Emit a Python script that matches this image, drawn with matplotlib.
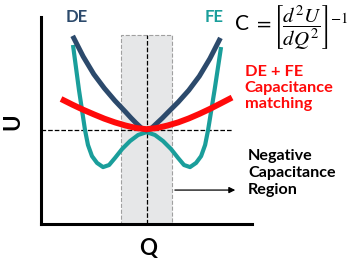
import matplotlib
matplotlib.use('Agg')
import matplotlib.pyplot as plt
from matplotlib.patches import Rectangle

plt.rcParams['font.family'] = ['Lato', 'DejaVu Sans']
plt.rcParams['mathtext.fontset'] = 'stix'

# Energy curves U(Q)
de_q = [-0.70, -0.60, -0.50, -0.40, -0.30, -0.20, -0.15, -0.10, -0.05, 0.0,
        0.05, 0.10, 0.15, 0.20, 0.30, 0.40, 0.50, 0.60, 0.70]
de_u = [4.55, 3.55, 2.70, 2.02, 1.42, 0.88, 0.60, 0.34, 0.10, 0.0,
        0.10, 0.34, 0.58, 0.84, 1.35, 1.92, 2.60, 3.45, 4.45]

fe_q = [-0.697, -0.640, -0.583, -0.555, -0.517, -0.469, -0.412, -0.355, -0.299,
        -0.232, -0.156, -0.080, 0.0,
        0.080, 0.156, 0.232, 0.299, 0.355, 0.412, 0.469, 0.517, 0.555, 0.583,
        0.645, 0.706]
fe_u = [4.11, 1.93, 0.0, -0.72, -1.26, -1.59, -1.79, -1.69, -1.35,
        -0.92, -0.53, -0.24, -0.10,
        -0.24, -0.53, -0.92, -1.35, -1.69, -1.79, -1.59, -1.26, -0.72, 0.0,
        1.95, 4.01]

red_q = [-0.81, -0.70, -0.60, -0.50, -0.40, -0.30, -0.20, -0.10, 0.0,
         0.10, 0.20, 0.30, 0.40, 0.50, 0.60, 0.70, 0.81]
red_u = [1.50, 1.22, 0.98, 0.76, 0.55, 0.37, 0.22, 0.10, 0.04,
         0.10, 0.22, 0.37, 0.56, 0.78, 1.02, 1.28, 1.57]

nc_region = (-0.242, 0.242)   # negative capacitance region in Q
region_top = 4.59

fig = plt.figure(figsize=(3.59, 2.62), dpi=100)
ax = fig.add_axes([0.1142, 0.145, 0.588, 0.790])
ax.set_xlim(-1.0, 1.0)
ax.set_ylim(-4.54, 5.46)

# shaded region + guide lines
ax.add_patch(Rectangle((nc_region[0], -4.54), nc_region[1] - nc_region[0], region_top + 4.54,
                       facecolor='#e6e7e8', edgecolor='#a0a0a0', lw=0.8, ls='--', zorder=0))
ax.plot([0, 0], [-4.54, region_top], color='black', lw=0.9, ls='--', zorder=1)
ax.plot([-1.0, 0.82], [0, 0], color='black', lw=0.9, ls='--', zorder=1, clip_on=False)

ax.plot(fe_q, fe_u, color='#1a9e9b', lw=3.0, solid_capstyle='butt', zorder=2)
ax.plot(de_q, de_u, color='#2c4a6c', lw=3.6, solid_capstyle='butt', zorder=3)
ax.plot(red_q, red_u, color='#ff0a0a', lw=4.3, solid_capstyle='butt', zorder=4, clip_on=False)

ax.annotate('', xy=(0.867, -2.9), xytext=(nc_region[1], -2.9),
            arrowprops=dict(arrowstyle='-|>', color='black', lw=0.9, mutation_scale=9),
            annotation_clip=False)

for s in ['top', 'right']:
    ax.spines[s].set_visible(False)
for s in ['left', 'bottom']:
    ax.spines[s].set_linewidth(2.2)
ax.set_xticks([])
ax.set_yticks([])

fig.text(0.2145, 0.935, 'DE', color='#2c4a6c', fontsize=12, fontweight='bold',
         ha='center', va='center')
fig.text(0.596, 0.935, 'FE', color='#1a9e9b', fontsize=12, fontweight='bold',
         ha='center', va='center')
fig.text(0.652, 0.893, r'C $=\left[\dfrac{d^2U}{dQ^2}\right]^{-1}$', fontsize=15,
         ha='left', va='center')
fig.text(0.682, 0.752, 'DE + FE\nCapacitance\nmatching', color='#ff0a0a', fontsize=11.8,
         fontweight='bold', ha='left', va='top', linespacing=1.2)
fig.text(0.691, 0.430, 'Negative\nCapacitance\nRegion', color='black', fontsize=11.6,
         fontweight='bold', ha='left', va='top', linespacing=1.25)
fig.text(0.036, 0.534, 'U', fontsize=16, fontweight='bold', rotation=90,
         ha='center', va='center')
fig.text(0.412, 0.05, 'Q', fontsize=16, fontweight='bold', ha='center', va='center')

fig.savefig('out.png', dpi=100)
